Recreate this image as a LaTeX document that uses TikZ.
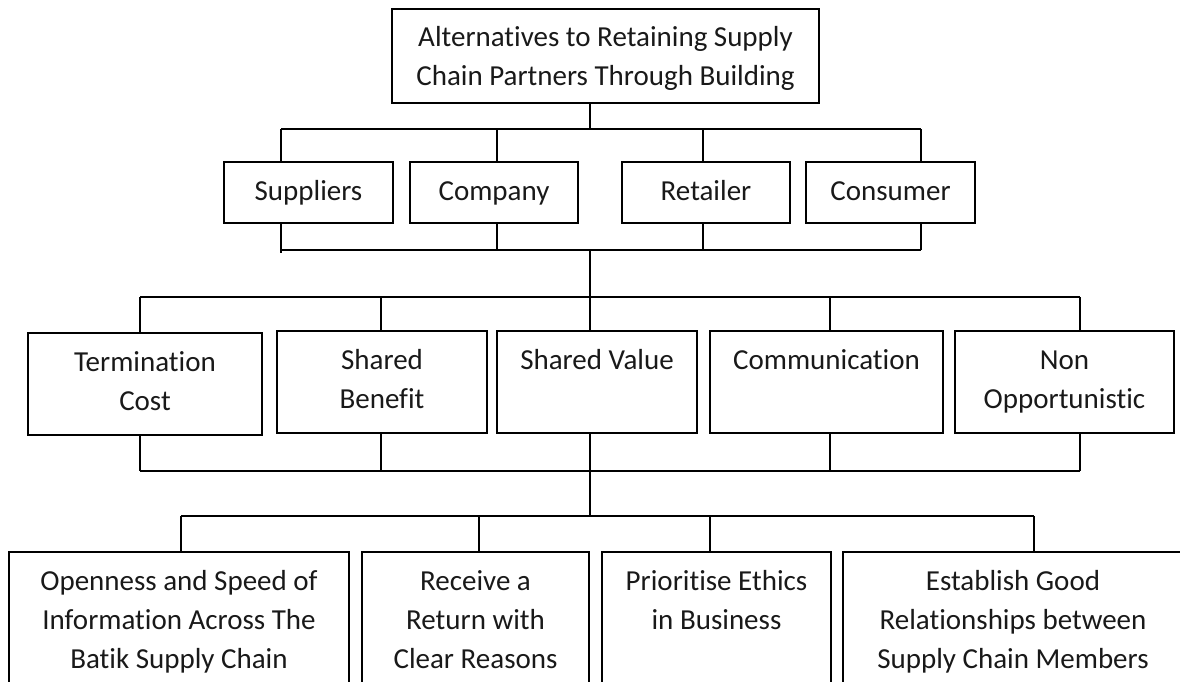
\documentclass[tikz,border=0pt]{standalone}
\usepackage{fontspec}
\setmainfont{Carlito}[Ligatures=NoCommon]
\newcommand\bxtext[3]{\parbox[c][#2][t]{#1}{\centering\rule{0pt}{38pt}#3\par}}
\begin{document}
\begin{tikzpicture}[x=1pt,y=-1pt,
  bx/.style={draw=black, line width=1.3pt, inner sep=0pt, outer sep=0pt, anchor=north west,
             font=\fontsize{29}{39}\selectfont, text=black!90},
  ln/.style={draw=black, line width=1.3pt}]
\useasboundingbox (0,0) rectangle (1180,682);
\begin{scope}
\clip (0,0) rectangle (1180,682);
% level 1
\node[bx] (top) at (392,9) {\bxtext{427pt}{94pt}{Alternatives to Retaining Supply\\Chain Partners Through Building}};
% level 2
\node[bx] (sup) at (224,162) {\bxtext{169pt}{61pt}{Suppliers}};
\node[bx] (com) at (410,162) {\bxtext{168pt}{61pt}{Company}};
\node[bx] (ret) at (622,162) {\bxtext{168pt}{61pt}{Retailer}};
\node[bx] (con) at (806,162) {\bxtext{169pt}{61pt}{Consumer}};
% level 3
\node[bx] (term) at (28,333) {\bxtext{234pt}{102pt}{Termination\\Cost}};
\node[bx] (sb) at (277,331) {\bxtext{210pt}{102pt}{Shared\\Benefit}};
\node[bx] (sv) at (497,331) {\bxtext{200pt}{102pt}{Shared Value}};
\node[bx] (comm) at (710,331) {\bxtext{233pt}{102pt}{Communication}};
\node[bx] (nonop) at (955,331) {\bxtext{219pt}{102pt}{Non\\Opportunistic}};
% level 4
\node[bx] (open) at (9,552) {\bxtext{340pt}{148pt}{Openness and Speed of\\Information Across The\\Batik Supply Chain}};
\node[bx] (recv) at (362,552) {\bxtext{227pt}{148pt}{Receive a\\Return with\\Clear Reasons}};
\node[bx] (prio) at (602,552) {\bxtext{229pt}{148pt}{Prioritise Ethics\\in Business}};
\node[bx] (estb) at (843,552) {\bxtext{340pt}{148pt}{Establish Good\\Relationships between\\Supply Chain Members}};

% bus coordinates
\coordinate (a0) at (590,129);
\coordinate (a1) at (281,129);
\coordinate (a2) at (497,129);
\coordinate (a3) at (703,129);
\coordinate (a4) at (921,129);

\coordinate (b0) at (590,250);
\coordinate (b1) at (281,250);
\coordinate (b1x) at (281,253);
\coordinate (b2) at (497,250);
\coordinate (b3) at (703,250);
\coordinate (b4) at (921,250);

\coordinate (c1) at (140,297);
\coordinate (c2) at (381,297);
\coordinate (c4) at (830,297);
\coordinate (c5) at (1080,297);

\coordinate (d0) at (590,471);
\coordinate (d1) at (140,471);
\coordinate (d2) at (381,471);
\coordinate (d4) at (830,471);
\coordinate (d5) at (1080,471);

\coordinate (e0) at (590,516);
\coordinate (e1) at (181,516);
\coordinate (e2) at (479,516);
\coordinate (e3) at (710,516);
\coordinate (e4) at (1034,516);

% level 1 -> level 2
\draw[ln] (top.south -| a0) -- (a0);
\draw[ln] (a1) -- (a4);
\draw[ln] (a1) -- (a1 |- sup.north);
\draw[ln] (a2) -- (a2 |- com.north);
\draw[ln] (a3) -- (a3 |- ret.north);
\draw[ln] (a4) -- (a4 |- con.north);

% level 2 -> level 3
\draw[ln] (sup.south -| b1) -- (b1x);
\draw[ln] (com.south -| b2) -- (b2);
\draw[ln] (ret.south -| b3) -- (b3);
\draw[ln] (con.south -| b4) -- (b4);
\draw[ln] (b1) -- (b4);
\draw[ln] (b0) -- (sv.north -| b0);
\draw[ln] (c1) -- (c5);
\draw[ln] (c1) -- (c1 |- term.north);
\draw[ln] (c2) -- (c2 |- sb.north);
\draw[ln] (c4) -- (c4 |- comm.north);
\draw[ln] (c5) -- (c5 |- nonop.north);

% level 3 -> level 4
\draw[ln] (term.south -| d1) -- (d1);
\draw[ln] (sb.south -| d2) -- (d2);
\draw[ln] (comm.south -| d4) -- (d4);
\draw[ln] (nonop.south -| d5) -- (d5);
\draw[ln] (d1) -- (d5);
\draw[ln] (sv.south -| d0) -- (e0);
\draw[ln] (e1) -- (e4);
\draw[ln] (e1) -- (e1 |- open.north);
\draw[ln] (e2) -- (e2 |- recv.north);
\draw[ln] (e3) -- (e3 |- prio.north);
\draw[ln] (e4) -- (e4 |- estb.north);
\end{scope}
\end{tikzpicture}
\end{document}
